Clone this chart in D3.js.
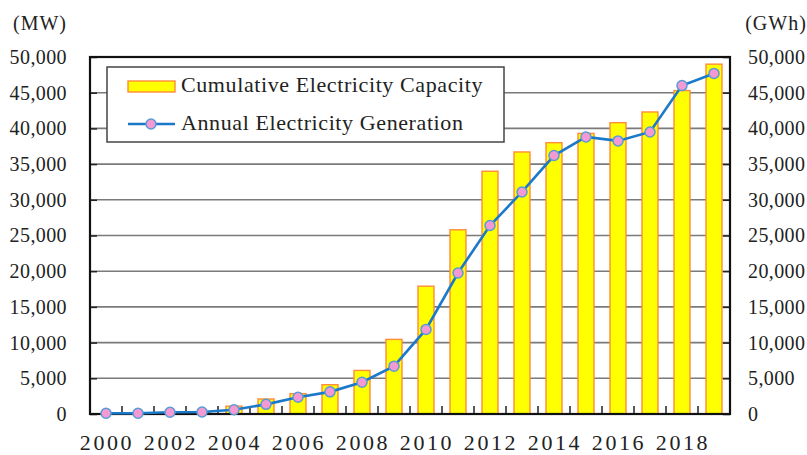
<!DOCTYPE html>
<html>
<head>
<meta charset="utf-8">
<script src="https://cdn.jsdelivr.net/npm/d3@7"></script>
<style>
  body { margin: 0; background: #fff; }
  svg text { font-family: "Liberation Serif", "DejaVu Serif", serif; fill: #222; }
</style>
</head>
<body>
<div id="chart"></div>
<script>
// data
const years = [2000, 2001, 2002, 2003, 2004, 2005, 2006, 2007, 2008, 2009,
               2010, 2011, 2012, 2013, 2014, 2015, 2016, 2017, 2018, 2019];
const capacityMW = [30, 70, 100, 300, 1100, 2100, 2850, 4100, 6100, 10450,
                    17900, 25800, 34000, 36700, 38000, 39300, 40800, 42300, 45300, 49000];
const generationGWh = [100, 100, 250, 280, 600, 1350, 2350, 3100, 4450, 6700,
                       11850, 19750, 26400, 31100, 36200, 38800, 38250, 39500, 46000, 47700];
const yTicks = [0, 5000, 10000, 15000, 20000, 25000, 30000, 35000, 40000, 45000, 50000];
const xLabelYears = [2000, 2002, 2004, 2006, 2008, 2010, 2012, 2014, 2016, 2018];

const width = 807, height = 455;
const margin = { top: 57, right: 77, bottom: 41, left: 90 };
const innerW = width - margin.left - margin.right;
const innerH = height - margin.top - margin.bottom;

const svg = d3.select('#chart').append('svg')
    .attr('width', width)
    .attr('height', height);

const g = svg.append('g').attr('transform', `translate(${margin.left},${margin.top})`);

const x = d3.scaleBand().domain(years).range([0, innerW]).paddingInner(0.5).paddingOuter(0.25);
const xc = d => x(d) + x.bandwidth() / 2;
const yL = d3.scaleLinear().domain([0, 50000]).range([innerH, 0]);
const yR = d3.scaleLinear().domain([0, 50000]).range([innerH, 0]);
const fmt = d3.format(',');

// gridlines
g.append('g').selectAll('line')
    .data(yTicks.slice(1, -1))
    .join('line')
    .attr('x1', 0).attr('x2', innerW)
    .attr('y1', d => yL(d)).attr('y2', d => yL(d))
    .attr('stroke', '#7a7a7a')
    .attr('stroke-width', 1.6);

// bars
g.append('g').selectAll('rect')
    .data(years)
    .join('rect')
    .attr('x', d => x(d))
    .attr('width', x.bandwidth())
    .attr('y', (d, i) => yL(capacityMW[i]))
    .attr('height', (d, i) => innerH - yL(capacityMW[i]))
    .attr('fill', '#ffff00')
    .attr('stroke', '#ff8c3a')
    .attr('stroke-width', 1.4);

// axes (left, right) with inward ticks
const leftAxis = g.append('g')
    .call(d3.axisLeft(yL).tickValues(yTicks).tickSize(-7).tickFormat(fmt).tickPadding(23));
const rightAxis = g.append('g').attr('transform', `translate(${innerW},0)`)
    .call(d3.axisRight(yR).tickValues(yTicks).tickSize(-7).tickFormat(fmt).tickPadding(18));
[leftAxis, rightAxis].forEach(a => {
    a.select('.domain').remove();
    a.selectAll('.tick line').attr('stroke', '#222').attr('stroke-width', 1.5);
    a.selectAll('.tick text').style('font-size', '20px').style('letter-spacing', '0.4px').attr('fill', '#222');
});

// bottom tick marks at category boundaries
const boundaries = years.slice(1).map(d => x(d) - x.step() * x.paddingInner() / 2);
g.append('g').selectAll('line')
    .data(boundaries)
    .join('line')
    .attr('x1', d => d).attr('x2', d => d)
    .attr('y1', innerH).attr('y2', innerH - 8)
    .attr('stroke', '#222')
    .attr('stroke-width', 1.5);

// year labels
g.append('g').selectAll('text')
    .data(xLabelYears)
    .join('text')
    .attr('x', d => xc(d) + 1)
    .attr('y', innerH + 36)
    .attr('text-anchor', 'middle')
    .style('font-size', '22px')
    .style('letter-spacing', '2.6px')
    .text(d => d);

// plot frame
g.append('rect')
    .attr('width', innerW).attr('height', innerH)
    .attr('fill', 'none')
    .attr('stroke', '#111')
    .attr('stroke-width', 2.2);

// generation line
const line = d3.line()
    .x((d, i) => xc(years[i]))
    .y(d => yR(d));

g.append('path')
    .datum(generationGWh)
    .attr('d', line)
    .attr('fill', 'none')
    .attr('stroke', '#1b79c9')
    .attr('stroke-width', 2.6);

g.append('g').selectAll('circle')
    .data(generationGWh)
    .join('circle')
    .attr('cx', (d, i) => xc(years[i]))
    .attr('cy', d => yR(d))
    .attr('r', 5)
    .attr('fill', '#f39ad4')
    .attr('stroke', '#5b9bd5')
    .attr('stroke-width', 1.5);

// unit labels
svg.append('text').attr('x', 40).attr('y', 30).attr('text-anchor', 'middle')
    .style('font-size', '20px').style('letter-spacing', '1px').text('(MW)');
svg.append('text').attr('x', 776).attr('y', 30).attr('text-anchor', 'middle')
    .style('font-size', '20px').style('letter-spacing', '1px').text('(GWh)');

// legend
const lg = svg.append('g');
lg.append('rect')
    .attr('x', 107).attr('y', 67).attr('width', 397).attr('height', 75)
    .attr('fill', '#fff')
    .attr('stroke', '#444')
    .attr('stroke-width', 1.5);
lg.append('rect')
    .attr('x', 128).attr('y', 81).attr('width', 47).attr('height', 11)
    .attr('fill', '#ffff00')
    .attr('stroke', '#ff8c3a')
    .attr('stroke-width', 1.4);
lg.append('text').attr('x', 181).attr('y', 92)
    .style('font-size', '22px').style('letter-spacing', '0.6px')
    .text('Cumulative Electricity Capacity');
lg.append('line')
    .attr('x1', 128).attr('x2', 175).attr('y1', 124).attr('y2', 124)
    .attr('stroke', '#1b79c9').attr('stroke-width', 2.6);
lg.append('circle')
    .attr('cx', 151).attr('cy', 124).attr('r', 5)
    .attr('fill', '#f39ad4').attr('stroke', '#5b9bd5').attr('stroke-width', 1.5);
lg.append('text').attr('x', 181).attr('y', 130)
    .style('font-size', '22px').style('letter-spacing', '0.6px')
    .text('Annual Electricity Generation');
</script>
</body>
</html>
